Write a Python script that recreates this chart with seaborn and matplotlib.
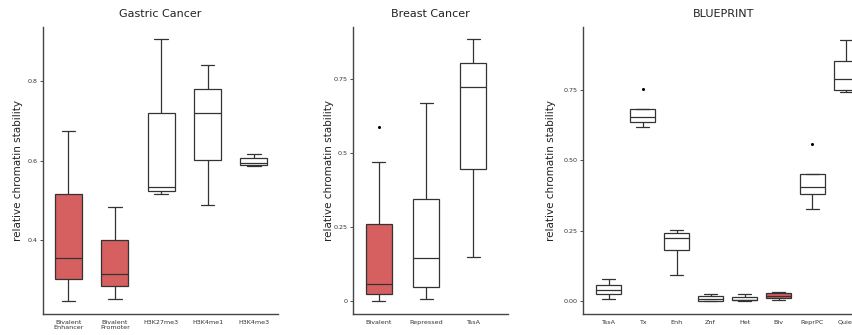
import numpy as np
import pandas as pd
import matplotlib
matplotlib.use("Agg")
import matplotlib.pyplot as plt
import seaborn as sns

RED = "#d65f5f"
EDGE = "#333333"

# Gastric Cancer: five-number summaries (low whisker, Q1, median, Q3, high whisker)
gastric_cats = ["Bivalent\nEnhancer", "Bivalent\nPromoter", "H3K27me3", "H3K4me1", "H3K4me3"]
gastric_low = [0.248, 0.254, 0.515, 0.488, 0.586]
gastric_q1 = [0.303, 0.287, 0.524, 0.601, 0.589]
gastric_med = [0.357, 0.316, 0.533, 0.718, 0.595]
gastric_q3 = [0.516, 0.400, 0.718, 0.778, 0.606]
gastric_high = [0.674, 0.483, 0.903, 0.839, 0.617]
gastric_red = ["Bivalent\nEnhancer", "Bivalent\nPromoter"]
gastric_out_cat = []
gastric_out_val = []

# Breast Cancer
breast_cats = ["Bivalent", "Repressed", "TssA"]
breast_low = [0.001, 0.009, 0.149]
breast_q1 = [0.024, 0.047, 0.447]
breast_med = [0.060, 0.145, 0.723]
breast_q3 = [0.260, 0.347, 0.807]
breast_high = [0.471, 0.669, 0.885]
breast_red = ["Bivalent"]
breast_out_cat = ["Bivalent"]
breast_out_val = [0.588]

# BLUEPRINT
bp_cats = ["TssA", "Tx", "Enh", "Znf", "Het", "Biv", "ReprPC", "Quies"]
bp_low = [0.005, 0.618, 0.092, 0.000, 0.000, 0.001, 0.328, 0.744]
bp_q1 = [0.023, 0.637, 0.181, -0.001, 0.001, 0.010, 0.382, 0.751]
bp_med = [0.039, 0.654, 0.225, 0.007, 0.004, 0.018, 0.405, 0.791]
bp_q3 = [0.055, 0.685, 0.243, 0.017, 0.012, 0.027, 0.450, 0.856]
bp_high = [0.076, 0.685, 0.252, 0.024, 0.024, 0.031, 0.450, 0.929]
bp_red = ["Biv"]
bp_out_cat = ["Tx", "ReprPC"]
bp_out_val = [0.756, 0.557]


def summary_frame(cats, low, q1, med, q3, high):
    rows = []
    for c, a, b, m, d, e in zip(cats, low, q1, med, q3, high):
        for v in sorted([a, b, m, d, e]):
            rows.append({"cat": c, "value": v})
    return pd.DataFrame(rows)


def draw_panel(ax, cats, low, q1, med, q3, high, red, out_cat, out_val,
               title, width, xlim, ylim, yticks, yticklabels, labelpad):
    df = summary_frame(cats, low, q1, med, q3, high)
    palette = {c: (RED if c in red else "white") for c in cats}
    sns.boxplot(data=df, x="cat", y="value", hue="cat", order=cats, hue_order=cats,
                palette=palette, legend=False, whis=(0, 100), width=width,
                linecolor=EDGE, linewidth=0.9, showfliers=False, saturation=1, ax=ax)
    if out_cat:
        odf = pd.DataFrame({"cat": out_cat, "value": out_val})
        sns.stripplot(data=odf, x="cat", y="value", order=cats, jitter=False,
                      color="black", size=2.2, ax=ax)
    ax.set_xlim(*xlim)
    ax.set_ylim(*ylim)
    ax.set_yticks(yticks)
    ax.set_yticklabels(yticklabels)
    ax.set_title(title, fontsize=8, color="#222222", pad=7)
    ax.set_xlabel("")
    ax.set_ylabel("relative chromatin stability", fontsize=7.5, color="#222222",
                  labelpad=labelpad)
    ax.tick_params(axis="x", length=0, pad=4, labelsize=4.6, colors="#333333")
    ax.tick_params(axis="y", length=2, width=0.6, pad=2, labelsize=4.6, colors="#333333")
    for sp in ["left", "bottom"]:
        ax.spines[sp].set_color("#444444")
        ax.spines[sp].set_linewidth(1.0)
    sns.despine(ax=ax)


sns.set_style("ticks")
fig = plt.figure(figsize=(8.53, 3.35), dpi=100)

ax1 = fig.add_axes([0.0504, 0.0627, 0.2755, 0.8567])
ax2 = fig.add_axes([0.4142, 0.0618, 0.1817, 0.8576])
ax3 = fig.add_axes([0.6831, 0.0618, 0.3292, 0.8585])

draw_panel(ax1, gastric_cats, gastric_low, gastric_q1, gastric_med, gastric_q3, gastric_high,
           gastric_red, gastric_out_cat, gastric_out_val, "Gastric Cancer", 0.58,
           (-0.55, 4.52), (0.216, 0.934), [0.4, 0.6, 0.8], ["0.4", "0.6", "0.8"], 3)
draw_panel(ax2, breast_cats, breast_low, breast_q1, breast_med, breast_q3, breast_high,
           breast_red, breast_out_cat, breast_out_val, "Breast Cancer", 0.55,
           (-0.54, 2.74), (-0.044, 0.927), [0, 0.25, 0.5, 0.75], ["0", "0.25", "0.5", "0.75"], 0)
draw_panel(ax3, bp_cats, bp_low, bp_q1, bp_med, bp_q3, bp_high,
           bp_red, bp_out_cat, bp_out_val, "BLUEPRINT", 0.75,
           (-0.76, 7.5), (-0.0485, 0.977), [0, 0.25, 0.5, 0.75], ["0.00", "0.25", "0.50", "0.75"], 5)

fig.savefig("out.png", dpi=100)
